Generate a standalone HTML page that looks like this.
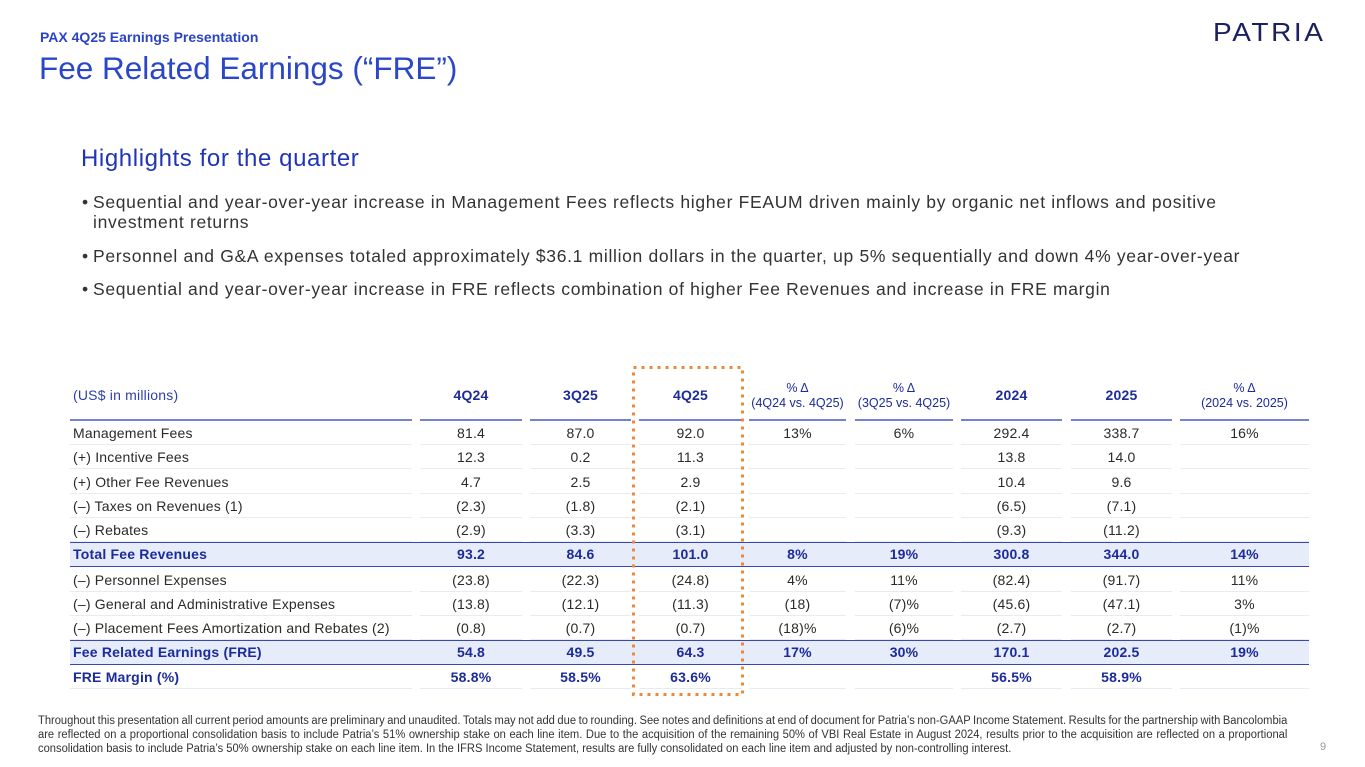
<!DOCTYPE html>
<html><head><meta charset="utf-8">
<style>
*{margin:0;padding:0;box-sizing:border-box}
body{width:1365px;height:767px;background:#fff;position:relative;overflow:hidden;font-family:"Liberation Sans",Arial,sans-serif;color:#333}
.abs{position:absolute;white-space:nowrap}
.sub{left:40px;top:29px;font-size:14px;font-weight:bold;color:#2b44c4}
.title{left:39px;top:50px;font-size:31.5px;color:#2b46c8}
.logo{left:1213px;top:18px;font-size:28px;letter-spacing:2.6px;color:#1b2160;transform:scaleY(0.92);transform-origin:left top}
.hl{left:81px;top:145px;font-size:24px;letter-spacing:0.6px;color:#2035b5}
.bl{font-size:17.5px;letter-spacing:0.68px;color:#333;line-height:20px}
.bl .dot{position:absolute;left:-11px;letter-spacing:0}
.row{position:absolute;left:0;width:1365px;height:24px}
.cell{position:absolute;top:0;height:24px;line-height:24px;text-align:center;font-size:14px;letter-spacing:0.2px;color:#2a2a2a;border-bottom:1px solid #e8ebf3;white-space:nowrap}
.l{left:70px;width:342px;text-align:left;padding-left:3px}
.a{left:420px;width:102px}
.b{left:530px;width:101px}
.c{left:639px;width:103px}
.d{left:749px;width:97px}
.e{left:855px;width:98px}
.f{left:961px;width:101px}
.g{left:1071px;width:101px}
.h{left:1180px;width:129px}
.bold .band{position:absolute;left:70px;width:1239px;top:0;height:25px;background:#e6ecfa;border-top:1.5px solid #3848b0;border-bottom:1.5px solid #3848b0}
.bold .cell{border-bottom:none;font-weight:bold;color:#1c2b9a}
.mr .cell{font-weight:bold;color:#1c2b9a}
.hd{position:absolute;top:369px;height:52px;text-align:center;color:#1c2b9a;border-bottom:2px solid #7483cf;white-space:nowrap}
.hd .bx{position:absolute;left:0;right:0;top:18px;font-size:14px;font-weight:bold;letter-spacing:0.2px}
.hd .sm{position:absolute;left:0;right:0;top:12px;font-size:12.5px;line-height:15px}
.foot{font-size:11.5px;color:#333;transform:scaleX(0.97);transform-origin:left top;width:1288px}
.just{text-align:justify;text-align-last:justify;word-spacing:-1px}
</style></head><body>

<div class="abs sub">PAX 4Q25 Earnings Presentation</div>
<div class="abs title">Fee Related Earnings (“FRE”)</div>
<div class="abs logo">PATRIA</div>

<div class="abs hl">Highlights for the quarter</div>
<div class="abs bl" style="left:93px;top:192px"><span class="dot">•</span>Sequential and year-over-year increase in Management Fees reflects higher FEAUM driven mainly by organic net inflows and positive</div>
<div class="abs bl" style="left:93px;top:212px">investment returns</div>
<div class="abs bl" style="left:93px;top:246px"><span class="dot">•</span>Personnel and G&amp;A expenses totaled approximately $36.1 million dollars in the quarter, up 5% sequentially and down 4% year-over-year</div>
<div class="abs bl" style="left:93px;top:279px"><span class="dot">•</span>Sequential and year-over-year increase in FRE reflects combination of higher Fee Revenues and increase in FRE margin</div>

<!-- header -->
<div class="hd l" style="text-align:left;color:#2d3fae"><div class="bx" style="font-weight:normal;left:3px">(US$ in millions)</div></div>
<div class="hd a"><div class="bx">4Q24</div></div>
<div class="hd b"><div class="bx">3Q25</div></div>
<div class="hd c"><div class="bx">4Q25</div></div>
<div class="hd d"><div class="sm">% Δ<br>(4Q24 vs. 4Q25)</div></div>
<div class="hd e"><div class="sm">% Δ<br>(3Q25 vs. 4Q25)</div></div>
<div class="hd f"><div class="bx">2024</div></div>
<div class="hd g"><div class="bx">2025</div></div>
<div class="hd h"><div class="sm">% Δ<br>(2024 vs. 2025)</div></div>

<div class="row" style="top:421px"><div class="cell l">Management Fees</div><div class="cell a">81.4</div><div class="cell b">87.0</div><div class="cell c">92.0</div><div class="cell d">13%</div><div class="cell e">6%</div><div class="cell f">292.4</div><div class="cell g">338.7</div><div class="cell h">16%</div></div>
<div class="row" style="top:445px"><div class="cell l">(+) Incentive Fees</div><div class="cell a">12.3</div><div class="cell b">0.2</div><div class="cell c">11.3</div><div class="cell d"></div><div class="cell e"></div><div class="cell f">13.8</div><div class="cell g">14.0</div><div class="cell h"></div></div>
<div class="row" style="top:470px"><div class="cell l">(+) Other Fee Revenues</div><div class="cell a">4.7</div><div class="cell b">2.5</div><div class="cell c">2.9</div><div class="cell d"></div><div class="cell e"></div><div class="cell f">10.4</div><div class="cell g">9.6</div><div class="cell h"></div></div>
<div class="row" style="top:494px"><div class="cell l">(–) Taxes on Revenues (1)</div><div class="cell a">(2.3)</div><div class="cell b">(1.8)</div><div class="cell c">(2.1)</div><div class="cell d"></div><div class="cell e"></div><div class="cell f">(6.5)</div><div class="cell g">(7.1)</div><div class="cell h"></div></div>
<div class="row" style="top:518px"><div class="cell l">(–) Rebates</div><div class="cell a">(2.9)</div><div class="cell b">(3.3)</div><div class="cell c">(3.1)</div><div class="cell d"></div><div class="cell e"></div><div class="cell f">(9.3)</div><div class="cell g">(11.2)</div><div class="cell h"></div></div>
<div class="row bold" style="top:542px"><div class="band"></div><div class="cell l">Total Fee Revenues</div><div class="cell a">93.2</div><div class="cell b">84.6</div><div class="cell c">101.0</div><div class="cell d">8%</div><div class="cell e">19%</div><div class="cell f">300.8</div><div class="cell g">344.0</div><div class="cell h">14%</div></div>
<div class="row" style="top:568px"><div class="cell l">(–) Personnel Expenses</div><div class="cell a">(23.8)</div><div class="cell b">(22.3)</div><div class="cell c">(24.8)</div><div class="cell d">4%</div><div class="cell e">11%</div><div class="cell f">(82.4)</div><div class="cell g">(91.7)</div><div class="cell h">11%</div></div>
<div class="row" style="top:592px"><div class="cell l">(–) General and Administrative Expenses</div><div class="cell a">(13.8)</div><div class="cell b">(12.1)</div><div class="cell c">(11.3)</div><div class="cell d">(18)</div><div class="cell e">(7)%</div><div class="cell f">(45.6)</div><div class="cell g">(47.1)</div><div class="cell h">3%</div></div>
<div class="row" style="top:616px"><div class="cell l">(–) Placement Fees Amortization and Rebates (2)</div><div class="cell a">(0.8)</div><div class="cell b">(0.7)</div><div class="cell c">(0.7)</div><div class="cell d">(18)%</div><div class="cell e">(6)%</div><div class="cell f">(2.7)</div><div class="cell g">(2.7)</div><div class="cell h">(1)%</div></div>
<div class="row bold" style="top:640px"><div class="band"></div><div class="cell l">Fee Related Earnings (FRE)</div><div class="cell a">54.8</div><div class="cell b">49.5</div><div class="cell c">64.3</div><div class="cell d">17%</div><div class="cell e">30%</div><div class="cell f">170.1</div><div class="cell g">202.5</div><div class="cell h">19%</div></div>
<div class="row mr" style="top:665px"><div class="cell l">FRE Margin (%)</div><div class="cell a">58.8%</div><div class="cell b">58.5%</div><div class="cell c">63.6%</div><div class="cell d"></div><div class="cell e"></div><div class="cell f">56.5%</div><div class="cell g">58.9%</div><div class="cell h"></div></div>

<svg class="abs" style="left:630px;top:364px" width="118" height="335">
<rect x="3.5" y="3.5" width="109" height="327" fill="none" stroke="#f0883a" stroke-width="3" stroke-dasharray="3 5"/>
</svg>

<div class="abs foot just" style="left:38px;top:715px">Throughout this presentation all current period amounts are preliminary and unaudited. Totals may not add due to rounding. See notes and definitions at end of document for Patria’s non-GAAP Income Statement. Results for the partnership with Bancolombia</div>
<div class="abs foot just" style="left:38px;top:729px">are reflected on a proportional consolidation basis to include Patria’s 51% ownership stake on each line item. Due to the acquisition of the remaining 50% of VBI Real Estate in August 2024, results prior to the acquisition are reflected on a proportional</div>
<div class="abs foot" style="left:38px;top:743px">consolidation basis to include Patria’s 50% ownership stake on each line item. In the IFRS Income Statement, results are fully consolidated on each line item and adjusted by non-controlling interest.</div>
<div class="abs" style="left:1320px;top:741px;font-size:11px;color:#999">9</div>
</body></html>
